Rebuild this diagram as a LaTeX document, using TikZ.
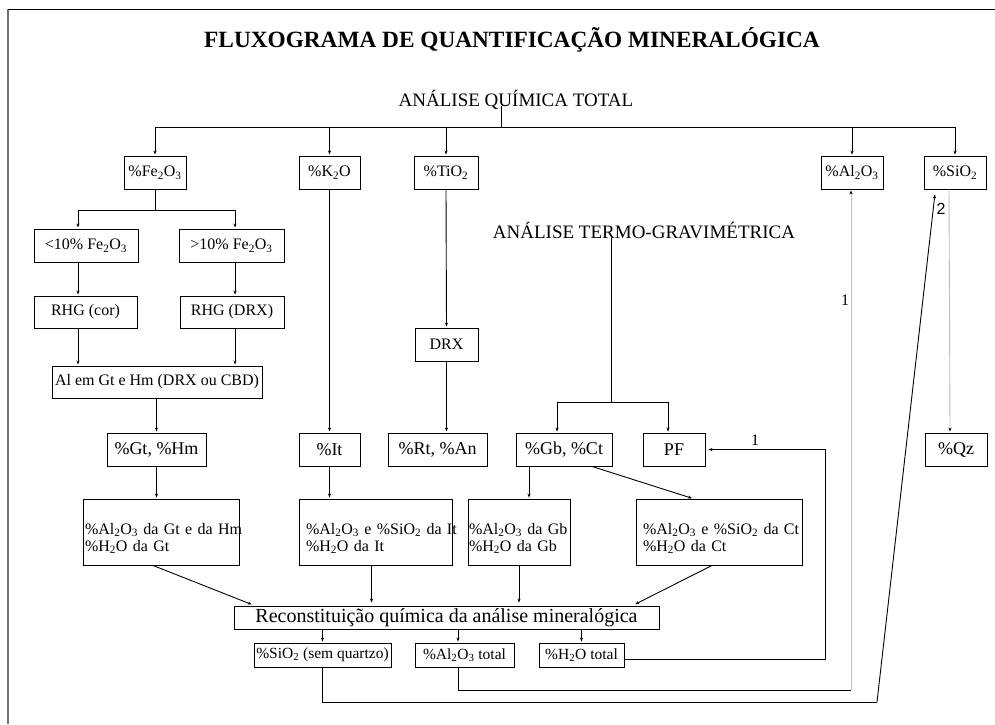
\documentclass[tikz,border=0pt]{standalone}
\usepackage{fontspec}
\setmainfont{Liberation Serif}
\newfontfamily\digitsans{Liberation Sans}
\usetikzlibrary{arrows.meta}
\newcommand{\ix}[1]{\textsubscript{#1}}
\newcommand{\lowerline}{\rule{0pt}{24pt}}

\begin{document}
\begin{tikzpicture}[x=1pt, y=-1pt, line width=0.9pt]
      \tikzstyle{box} = [draw, inner sep=1pt, minimum height=33pt, font=\fontsize{16}{18}\selectfont]
      \tikzstyle{bigbox} = [box, font=\fontsize{18}{20}\selectfont]
      \tikzstyle{notebox} = [draw, minimum height=66pt, align=left, font=\fontsize{16}{17}\selectfont]
      \tikzstyle{smallbox} = [draw, inner sep=1pt, minimum height=24pt, font=\fontsize{15.5}{17}\selectfont]
      \tikzstyle{head} = [anchor=base, inner sep=1pt, font=\fontsize{19}{21}\selectfont]
      \tikzstyle{flowMark} = [anchor=base, inner sep=0pt, font=\fontsize{16}{18}\selectfont]
      \tikzstyle{arr} = [-{Stealth[length=4pt, width=3pt]}, shorten >=1pt]
      \tikzstyle{faint} = [draw=black!25, -{Stealth[length=4pt, width=3pt, color=black]}, shorten >=1pt]

      \useasboundingbox (0,0) rectangle (995,724);
      \draw[black!55, line width=1.5pt] (8,724) -- (8,9);
      \draw (8,9) -- (995,9);

      \node (title) [anchor=base, font=\bfseries\fontsize{23.3}{25}\selectfont] at (512,47) {FLUXOGRAMA DE QUANTIFICAÇÃO MINERALÓGICA};
      \node (chemTotal) [head] at (516,106) {ANÁLISE QUÍMICA TOTAL};
      \node (thermo) [head] at (644,238) {ANÁLISE TERMO-GRAVIMÉTRICA};

      \node (fe2o3) [box, minimum width=62pt] at (155,172.5) {\%Fe\ix{2}O\ix{3}};
      \node (k2o) [box, minimum width=61pt] at (329.5,172.5) {\%K\ix{2}O};
      \node (tio2) [box, minimum width=64pt] at (446,172.5) {\%TiO\ix{2}};
      \node (al2o3) [box, minimum width=62pt] at (852,172.5) {\%Al\ix{2}O\ix{3}};
      \node (sio2) [box, minimum width=62pt] at (955,172.5) {\%SiO\ix{2}};

      \node (lowFe) [box, minimum width=104pt] at (86,245.5) {<10\% Fe\ix{2}O\ix{3}};
      \node (highFe) [box, minimum width=105pt] at (231.5,245.5) {>10\% Fe\ix{2}O\ix{3}};
      \node (rhgCor) [box, minimum width=103pt, minimum height=32pt] at (85.5,312) {RHG (cor)};
      \node (rhgDrx) [box, minimum width=104pt, minimum height=32pt] at (232,312) {RHG (DRX)};
      \node (alGtHm) [box, minimum width=210pt, minimum height=32pt] at (157,382) {Al em Gt e Hm (DRX ou CBD)};
      \node (drx) [box, minimum width=63pt] at (446.5,344.5) {DRX};

      \node (gtHm) [bigbox, minimum width=99pt] at (156.5,449.5) {\%Gt, \%Hm};
      \node (it) [bigbox, minimum width=61pt] at (329.5,449.5) {\%It};
      \node (rtAn) [bigbox, minimum width=99pt] at (437.5,449.5) {\%Rt, \%An};
      \node (gbCt) [bigbox, minimum width=96pt] at (564,449.5) {\%Gb, \%Ct};
      \node (pf) [bigbox, minimum width=62pt] at (674,449.5) {PF};
      \node (qz) [bigbox, minimum width=62pt] at (956,449.5) {\%Qz};

      \node (alGt) [notebox, text width=152pt, inner xsep=2pt] at (161,532) {\lowerline\mbox{\%Al\ix{2}O\ix{3} da Gt e da Hm}\\\mbox{\%H\ix{2}O da Gt}};
      \node (alIt) [notebox, text width=139pt, inner xsep=7pt] at (375.5,532) {\lowerline\mbox{\%Al\ix{2}O\ix{3} e \%SiO\ix{2} da It}\\\mbox{\%H\ix{2}O da It}};
      \node (alGb) [notebox, text width=100pt, inner xsep=1pt] at (519,532) {\lowerline\mbox{\%Al\ix{2}O\ix{3} da Gb}\\\mbox{\%H\ix{2}O da Gb}};
      \node (alCt) [notebox, text width=152pt, inner xsep=7pt] at (719,532) {\lowerline\mbox{\%Al\ix{2}O\ix{3} e \%SiO\ix{2} da Ct}\\\mbox{\%H\ix{2}O da Ct}};

      \node (recon) [draw, minimum width=425pt, minimum height=23pt, inner sep=0pt, font=\fontsize{20}{22}\selectfont] at (446.5,617.5) {Reconstituição química da análise mineralógica};

      \node (sioFree) [smallbox, minimum width=137pt] at (322.5,655) {\%SiO\ix{2} (sem quartzo)};
      \node (alTotal) [smallbox, minimum width=99pt] at (464.5,655) {\%Al\ix{2}O\ix{3} total};
      \node (waterTotal) [smallbox, minimum width=85pt] at (581.5,655) {\%H\ix{2}O total};

      \coordinate (hub) at (501,127);
      \coordinate (feSplit) at (155,210);
      \coordinate (colA) at (78,0);
      \coordinate (colB) at (235,0);
      \coordinate (tgSplit) at (611,402);
      \coordinate (colC) at (557,0);
      \coordinate (colD) at (668,0);
      \coordinate (colE) at (529,0);
      \coordinate (colF) at (458,0);
      \coordinate (loopA) at (825,449);
      \coordinate (loopB) at (851,690);
      \coordinate (loopC) at (877,702);

      \draw (chemTotal.base -| hub) -- (hub);
      \draw (hub -| fe2o3.north) -- (hub -| sio2.north);
      \foreach \n in {fe2o3, k2o, tio2, al2o3, sio2}
        \draw[arr] (hub -| \n.north) -- (\n.north);

      \draw (fe2o3.south) -- (feSplit);
      \draw (feSplit -| colA) -- (feSplit -| colB);
      \draw[arr] (feSplit -| colA) -- (lowFe.north -| colA);
      \draw[arr] (feSplit -| colB) -- (highFe.north -| colB);
      \draw[arr] (lowFe.south -| colA) -- (rhgCor.north -| colA);
      \draw[arr] (highFe.south -| colB) -- (rhgDrx.north -| colB);
      \draw[arr] (rhgCor.south -| colA) -- (alGtHm.north -| colA);
      \draw[arr] (rhgDrx.south -| colB) -- (alGtHm.north -| colB);
      \draw[arr] (alGtHm.south -| gtHm.north) -- (gtHm.north);

      \draw[arr] (k2o.south) -- (it.north);
      \draw[arr] (tio2.south) -- (drx.north);
      \draw[arr] (drx.south) -- (drx.south |- rtAn.north);

      \draw (thermo.base -| tgSplit) -- (tgSplit);
      \draw (tgSplit -| colC) -- (tgSplit -| colD);
      \draw[arr] (tgSplit -| colC) -- (gbCt.north -| colC);
      \draw[arr] (tgSplit -| colD) -- (pf.north -| colD);

      \draw[arr] (gtHm.south) -- (gtHm.south |- alGt.north);
      \draw[arr] (it.south) -- (it.south |- alIt.north);
      \draw[arr] (gbCt.south -| colE) -- (alGb.north -| colE);
      \draw[arr] ([xshift=28pt]gbCt.south) -- ([xshift=-26pt]alCt.north);

      \draw[arr, shorten >=3pt] ([xshift=-8pt]alGt.south) -- ([xshift=-192pt]recon.north);
      \draw[arr, shorten >=3pt] ([xshift=-4pt]alIt.south) -- ([xshift=-4pt]alIt.south |- recon.north);
      \draw[arr, shorten >=3pt] (alGb.south) -- (alGb.south |- recon.north);
      \draw[arr, shorten >=3pt] ([xshift=-7pt]alCt.south) -- ([xshift=186pt]recon.north);

      \draw[arr] (recon.south -| sioFree.north) -- (sioFree.north);
      \draw[arr] (recon.south -| colF) -- (alTotal.north -| colF);
      \draw[arr] (recon.south -| waterTotal.north) -- (waterTotal.north);

      \draw[arr, shorten >=3pt] ([yshift=-4pt]waterTotal.east) -| (loopA) |- (pf.east);
      \node (pfMark) [flowMark] at (755,445) {1};

      \draw (alTotal.south -| colF) |- (loopB);
      \draw[faint] (loopB) -- (loopB |- al2o3.south);
      \node (alMark) [flowMark] at (845,305) {1};

      \draw (sioFree.south) |- (loopC);
      \draw[arr] (loopC) -- ([xshift=-20pt, yshift=-4pt]sio2.south);
      \node (siMark) [flowMark, font=\digitsans\fontsize{16}{18}\selectfont] at (941,214) {2};
      \draw[faint] ([xshift=-6pt]sio2.south) -- ([xshift=-6pt]qz.north);
\end{tikzpicture}
\end{document}
